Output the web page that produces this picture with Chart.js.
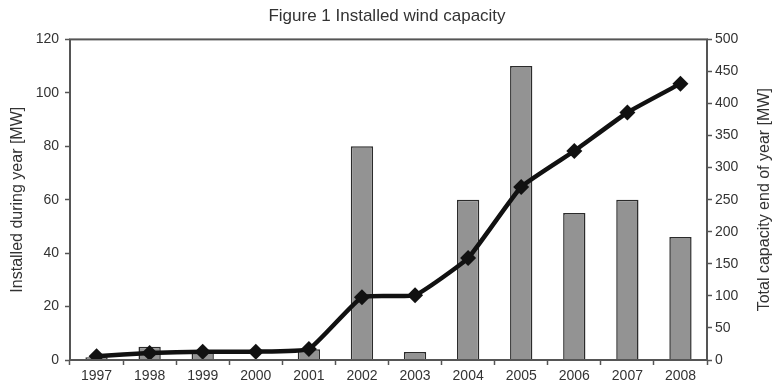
<!DOCTYPE html>
<html>
<head>
<meta charset="utf-8">
<script src="https://cdn.jsdelivr.net/npm/chart.js@4/dist/chart.umd.min.js"></script>
<style>
  html, body { margin: 0; padding: 0; background: #fff; }
  #wrap { width: 774px; height: 388px; }
</style>
</head>
<body>
<div id="wrap"><canvas id="windChart" width="774" height="388"></canvas></div>
<script>
const years = ["1997", "1998", "1999", "2000", "2001", "2002", "2003", "2004", "2005", "2006", "2007", "2008"];
const installedDuringYear = [1, 5, 3, 0, 4, 80, 3, 60, 110, 55, 60, 46];
const totalEndOfYear = [6, 11, 13, 13, 17, 98, 101, 159, 270, 326, 386, 431];
const leftTicks = [0, 20, 40, 60, 80, 100, 120];
const rightTicks = [0, 50, 100, 150, 200, 250, 300, 350, 400, 450, 500];
const rightTitle = "Total capacity end of year [MW]";

const textColor = "#333";
const axisColor = "#555";
const fontFamily = "Liberation Sans";

// box round the plot area, plus the right axis title read bottom to top
const frame = {
  id: "frame",
  afterDatasetsDraw(chart) {
    const { ctx, chartArea: a } = chart;
    ctx.save();
    ctx.strokeStyle = axisColor;
    ctx.lineWidth = 2;
    ctx.strokeRect(a.left, a.top, a.right - a.left, a.bottom - a.top);
    ctx.restore();
  },
  afterDraw(chart) {
    const { ctx, chartArea: a } = chart;
    ctx.save();
    ctx.translate(765, (a.top + a.bottom) / 2);
    ctx.rotate(-Math.PI / 2);
    ctx.fillStyle = textColor;
    ctx.font = "16px " + fontFamily;
    ctx.textAlign = "center";
    ctx.textBaseline = "middle";
    ctx.fillText(rightTitle, 0, 0);
    ctx.restore();
  }
};

const ctx = document.getElementById("windChart").getContext("2d");

new Chart(ctx, {
  type: "bar",
  data: {
    labels: years,
    datasets: [
      {
        type: "line",
        label: rightTitle,
        data: totalEndOfYear,
        yAxisID: "yRight",
        borderColor: "#111",
        backgroundColor: "#111",
        borderWidth: 4.5,
        pointStyle: "rectRot",
        pointRadius: 8,
        pointBorderWidth: 0,
        tension: 0.12,
        order: 0
      },
      {
        type: "bar",
        label: "Installed during year [MW]",
        data: installedDuringYear,
        yAxisID: "yLeft",
        backgroundColor: "#939393",
        borderColor: "#2b2b2b",
        borderWidth: 1.5,
        barPercentage: 0.42,
        categoryPercentage: 1,
        order: 1
      }
    ]
  },
  options: {
    responsive: false,
    animation: false,
    layout: { padding: 0 },
    plugins: {
      legend: { display: false },
      tooltip: { enabled: false },
      title: {
        display: true,
        text: "Figure 1 Installed wind capacity",
        color: textColor,
        font: { family: fontFamily, size: 17, weight: "normal" },
        padding: { top: 6, bottom: 13 }
      }
    },
    scales: {
      x: {
        afterFit(scale) { scale.height = 28; },
        grid: { drawOnChartArea: false, tickLength: 5, color: axisColor, tickWidth: 1.5, offset: true },
        border: { display: false },
        ticks: {
          color: textColor,
          font: { family: fontFamily, size: 14 },
          padding: 3,
          autoSkip: false,
          maxRotation: 0
        }
      },
      yLeft: {
        position: "left",
        min: 0,
        max: 120,
        afterFit(scale) { scale.width = 70; },
        afterBuildTicks(scale) { scale.ticks = leftTicks.map(v => ({ value: v })); },
        grid: { drawOnChartArea: false, tickLength: 5, color: axisColor, tickWidth: 1.5 },
        border: { display: false },
        ticks: { color: textColor, font: { family: fontFamily, size: 14 }, padding: 6 },
        title: {
          display: true,
          text: "Installed during year [MW]",
          color: textColor,
          font: { family: fontFamily, size: 16 },
          padding: { top: 8, bottom: 0 }
        }
      },
      yRight: {
        position: "right",
        min: 0,
        max: 500,
        afterFit(scale) { scale.width = 67; },
        afterBuildTicks(scale) { scale.ticks = rightTicks.map(v => ({ value: v })); },
        grid: { drawOnChartArea: false, tickLength: 5, color: axisColor, tickWidth: 1.5 },
        border: { display: false },
        ticks: { color: textColor, font: { family: fontFamily, size: 14 }, padding: 3 }
      }
    }
  },
  plugins: [frame]
});
</script>
</body>
</html>
